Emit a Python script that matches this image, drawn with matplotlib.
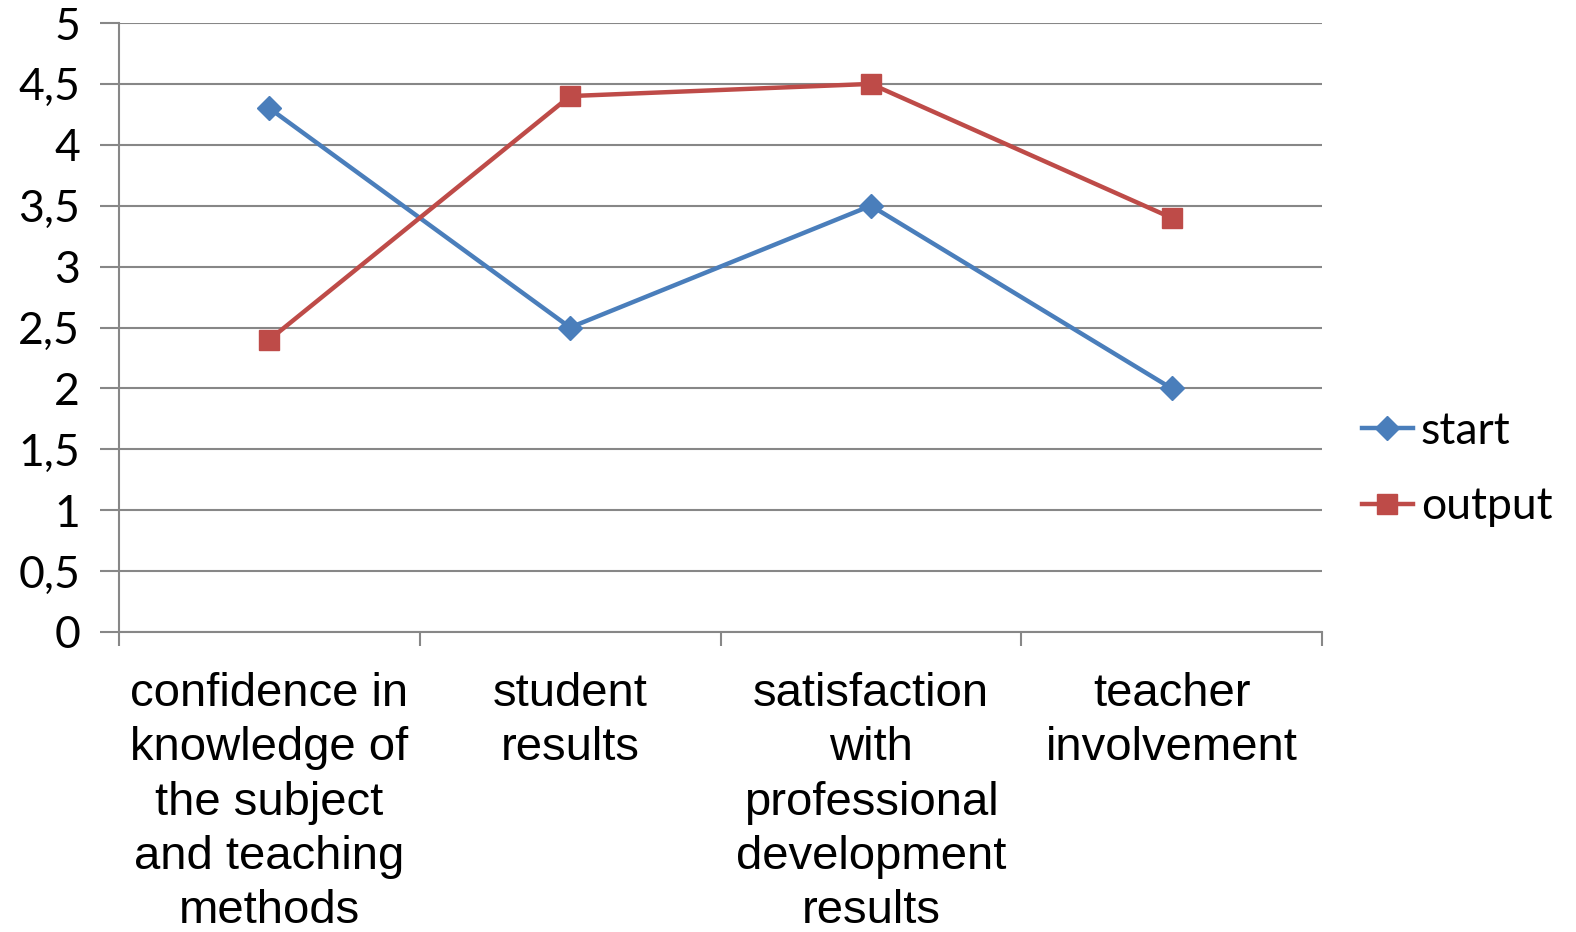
import numpy as np
import matplotlib.pyplot as plt
from matplotlib.ticker import FixedLocator, FuncFormatter

categories = ['confidence in\nknowledge of\nthe subject\nand teaching\nmethods',
              'student\nresults',
              'satisfaction\nwith\nprofessional\ndevelopment\nresults',
              'teacher\ninvolvement']
start = [4.3, 2.5, 3.5, 2.0]
output = [2.4, 4.4, 4.5, 3.4]

W, H = 1576, 932
fig = plt.figure(figsize=(W / 100, H / 100), dpi=100)
ax = fig.add_axes([119 / W, 1 - 632 / H, (1322 - 119) / W, (632 - 23) / H])

x = np.arange(len(categories))
ax.plot(x, start, color='#4a7ebb', lw=3.2, marker='D', ms=12, label='start')
ax.plot(x, output, color='#be4b48', lw=3.2, marker='s', ms=14.5, label='output')

ax.set_xlim(-0.5, len(categories) - 0.5)
ax.set_ylim(0, 5)
ax.set_yticks(np.arange(0, 5.01, 0.5))
ax.yaxis.set_major_formatter(FuncFormatter(lambda v, p: ('%g' % v).replace('.', ',')))
ax.grid(axis='y', color='#878787', lw=1.5)
ax.set_axisbelow(True)

ax.set_xticks(x)
ax.set_xticklabels(categories, fontsize=34, family='Liberation Sans', linespacing=1.3, va='top')
ax.xaxis.set_minor_locator(FixedLocator(np.arange(-0.5, len(categories), 1.0)))
ax.tick_params(axis='x', which='major', length=0, pad=29)
ax.tick_params(axis='x', which='minor', length=10, width=1.5, color='#878787')
ax.tick_params(axis='y', length=14, width=1.5, color='#878787', pad=14)
for lab in ax.get_yticklabels():
    lab.set_fontsize(32)
    lab.set_family('Lato')

for s in ['top', 'right']:
    ax.spines[s].set_visible(False)
for s in ['left', 'bottom']:
    ax.spines[s].set_color('#878787')
    ax.spines[s].set_linewidth(1.5)

ax.legend(loc='center left', bbox_to_anchor=(1362 / W, 1 - 469 / H), bbox_transform=fig.transFigure,
          frameon=False, prop={'family': 'Lato', 'size': 32}, handlelength=1.14,
          handletextpad=0.18, labelspacing=0.77, borderaxespad=0, borderpad=0)

fig.savefig('out.png', dpi=100)
